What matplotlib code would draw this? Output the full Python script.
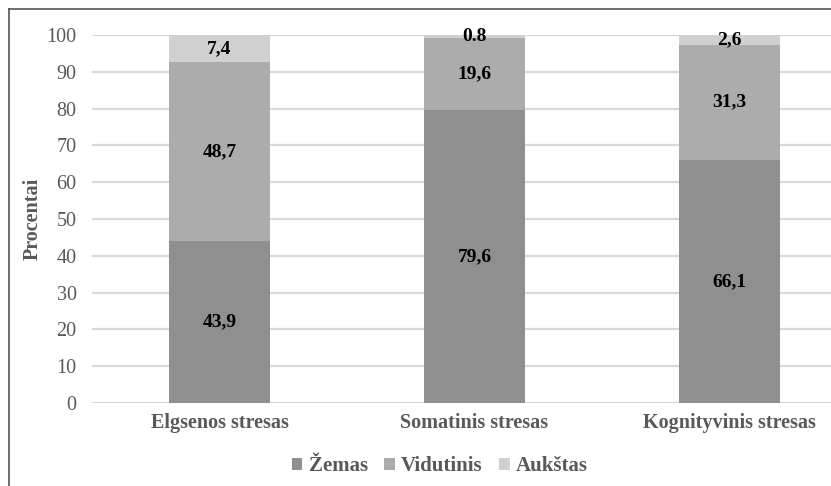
import matplotlib
matplotlib.use("Agg")
import matplotlib.pyplot as plt
from matplotlib.lines import Line2D
from matplotlib.patches import Patch

categories = ["Elgsenos stresas", "Somatinis stresas", "Kognityvinis stresas"]
series_names = ["Žemas", "Vidutinis", "Aukštas"]
zemas = [43.9, 79.6, 66.1]
vidutinis = [48.7, 19.6, 31.3]
aukstas = [7.4, 0.8, 2.6]
zemas_lbl = ["43,9", "79,6", "66,1"]
vidutinis_lbl = ["48,7", "19,6", "31,3"]
aukstas_lbl = ["7,4", "0.8", "2,6"]
yticks = [0, 10, 20, 30, 40, 50, 60, 70, 80, 90, 100]

colors = ["#8f8f8f", "#acacac", "#d0d0d0"]
plt.rcParams['font.family'] = ['Liberation Serif', 'DejaVu Serif']

W, H = 831, 486
fig = plt.figure(figsize=(W / 100, H / 100), dpi=100)
left, right = 92 / W, 857 / W
bottom, top = 1 - 403 / H, 1 - 35 / H
ax = fig.add_axes([left, bottom, right - left, top - bottom])

x = list(range(len(categories)))
width = 0.395
series = [zemas, vidutinis, aukstas]
labels = [zemas_lbl, vidutinis_lbl, aukstas_lbl]
base = [0.0] * len(categories)
for vals, lbls, c, name in zip(series, labels, colors, series_names):
    ax.bar(x, vals, width, bottom=base, color=c, label=name, zorder=3)
    for xi, v, b, l in zip(x, vals, base, lbls):
        ax.text(xi, b + v / 2, l, ha="center", va="center", fontsize=14,
                fontweight="bold", color="#000000", zorder=4)
    base = [b + v for b, v in zip(base, vals)]

ax.set_xlim(-0.5, 2.5)
ax.set_ylim(0, 100)
ax.set_yticks(yticks)
ax.set_yticklabels([str(t) for t in yticks], fontsize=14.5, color="#595959")
ax.set_xticks(x)
ax.set_xticklabels(categories, fontsize=14.5, fontweight="bold", color="#595959")
ax.tick_params(axis="y", length=0, pad=11)
ax.tick_params(axis="x", length=0, pad=7)
ax.grid(axis="y", color="#d9d9d9", linewidth=1.6, zorder=0)
for s in ax.spines.values():
    s.set_visible(False)
ax.set_ylabel("Procentai", fontsize=14.5, fontweight="bold", color="#595959", labelpad=3)

handles = [Patch(facecolor=c, edgecolor="none") for c in colors]
fig.legend(handles, series_names, loc="center", bbox_to_anchor=(440 / W, 1 - 466 / H),
           ncol=3, frameon=False, handlelength=0.5, handleheight=0.5, handletextpad=0.3,
           columnspacing=0.8, prop={"family": "Liberation Serif", "weight": "bold", "size": 15},
           labelcolor="#595959")

fig.add_artist(Line2D([9 / W, 9 / W], [0, 1 - 9 / H], color="#555555", linewidth=1.2))
fig.add_artist(Line2D([9 / W, 1], [1 - 9 / H, 1 - 9 / H], color="#555555", linewidth=1.2))

fig.savefig("out.png", dpi=100)
